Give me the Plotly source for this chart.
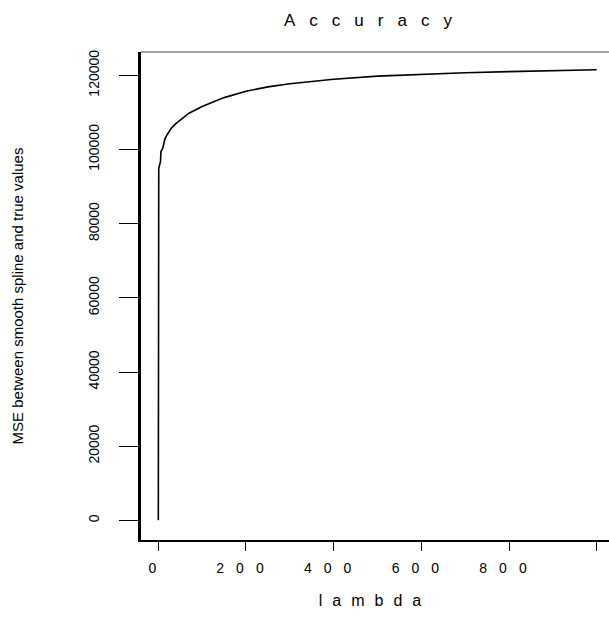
import plotly.graph_objects as go

# ---- data ----
lambda_vals = [0, 1, 5, 6, 10, 15, 20, 30, 40, 50, 70, 100, 150, 200, 250, 300,
               400, 500, 600, 700, 800, 900, 1000]
mse_vals = [0, 94900, 96800, 99500, 100300, 102800, 104000, 105800, 107000, 108000,
            109800, 111600, 114000, 115700, 116900, 117750, 118950, 119800, 120300,
            120700, 121000, 121300, 121500]

x_tick_vals = [0, 200, 400, 600, 800, 1000]
x_tick_text = ["0", "200", "400", "600", "800", ""]
y_tick_vals = [0, 20000, 40000, 60000, 80000, 100000, 120000]
y_tick_text = ["0", "20000", "40000", "60000", "80000", "100000", "120000"]

title_text = "Accuracy"
x_title = "lambda"
y_title = "MSE between smooth spline and true values"

FONT = "Liberation Sans, Arial, Helvetica, sans-serif"

fig = go.Figure()
fig.add_trace(go.Scatter(x=lambda_vals, y=mse_vals, mode="lines",
                         line=dict(color="black", width=1.6), showlegend=False,
                         hoverinfo="x+y"))

fig.update_layout(
    width=609, height=619,
    margin=dict(l=141, r=0, t=52, b=79),
    paper_bgcolor="white", plot_bgcolor="white",
    font=dict(family=FONT, color="black", size=14),
    title=dict(text=title_text, xref="paper", x=0.5, xanchor="center",
               yref="container", y=1 - 20 / 619, yanchor="middle",
               font=dict(size=17, color="black", family=FONT)),
    xaxis=dict(range=[-39.5, 1028.1], showgrid=False, zeroline=False,
               showline=True, linecolor="black", linewidth=1.6,
               ticks="outside", ticklen=9, tickwidth=1.4, tickcolor="black",
               tickvals=x_tick_vals, ticktext=x_tick_text,
               tickfont=dict(size=14, family=FONT, color="black"),
               ticklabelstandoff=5,
               title=dict(text=x_title, standoff=20,
                          font=dict(size=16, family=FONT, color="black"))),
    yaxis=dict(range=[-5300, 126300], showgrid=False, zeroline=False,
               showline=True, linecolor="black", linewidth=2.5,
               ticks="outside", ticklen=19, tickwidth=1.2, tickcolor="black",
               tickvals=y_tick_vals, ticktext=y_tick_text, tickangle=-90,
               tickfont=dict(size=14, family=FONT, color="black"),
               ticklabelstandoff=15,
               title=dict(text=y_title, standoff=59,
                          font=dict(size=15, family=FONT, color="black"))),
    shapes=[dict(type="line", xref="paper", yref="paper", x0=0, x1=1, y0=1, y1=1,
                 line=dict(color="#888888", width=1.5))],
)

post = """
var gd = document.getElementById('{plot_id}');
function spaceText(){
  gd.querySelectorAll('.gtitle').forEach(function(e){e.style.letterSpacing='14px';});
  gd.querySelectorAll('.xtick text').forEach(function(e){e.style.letterSpacing='12px';});
  gd.querySelectorAll('.g-xtitle text').forEach(function(e){e.style.letterSpacing='10px';});
}
spaceText();
gd.on('plotly_afterplot', spaceText);
"""

fig.write_html("out.html", post_script=post)
